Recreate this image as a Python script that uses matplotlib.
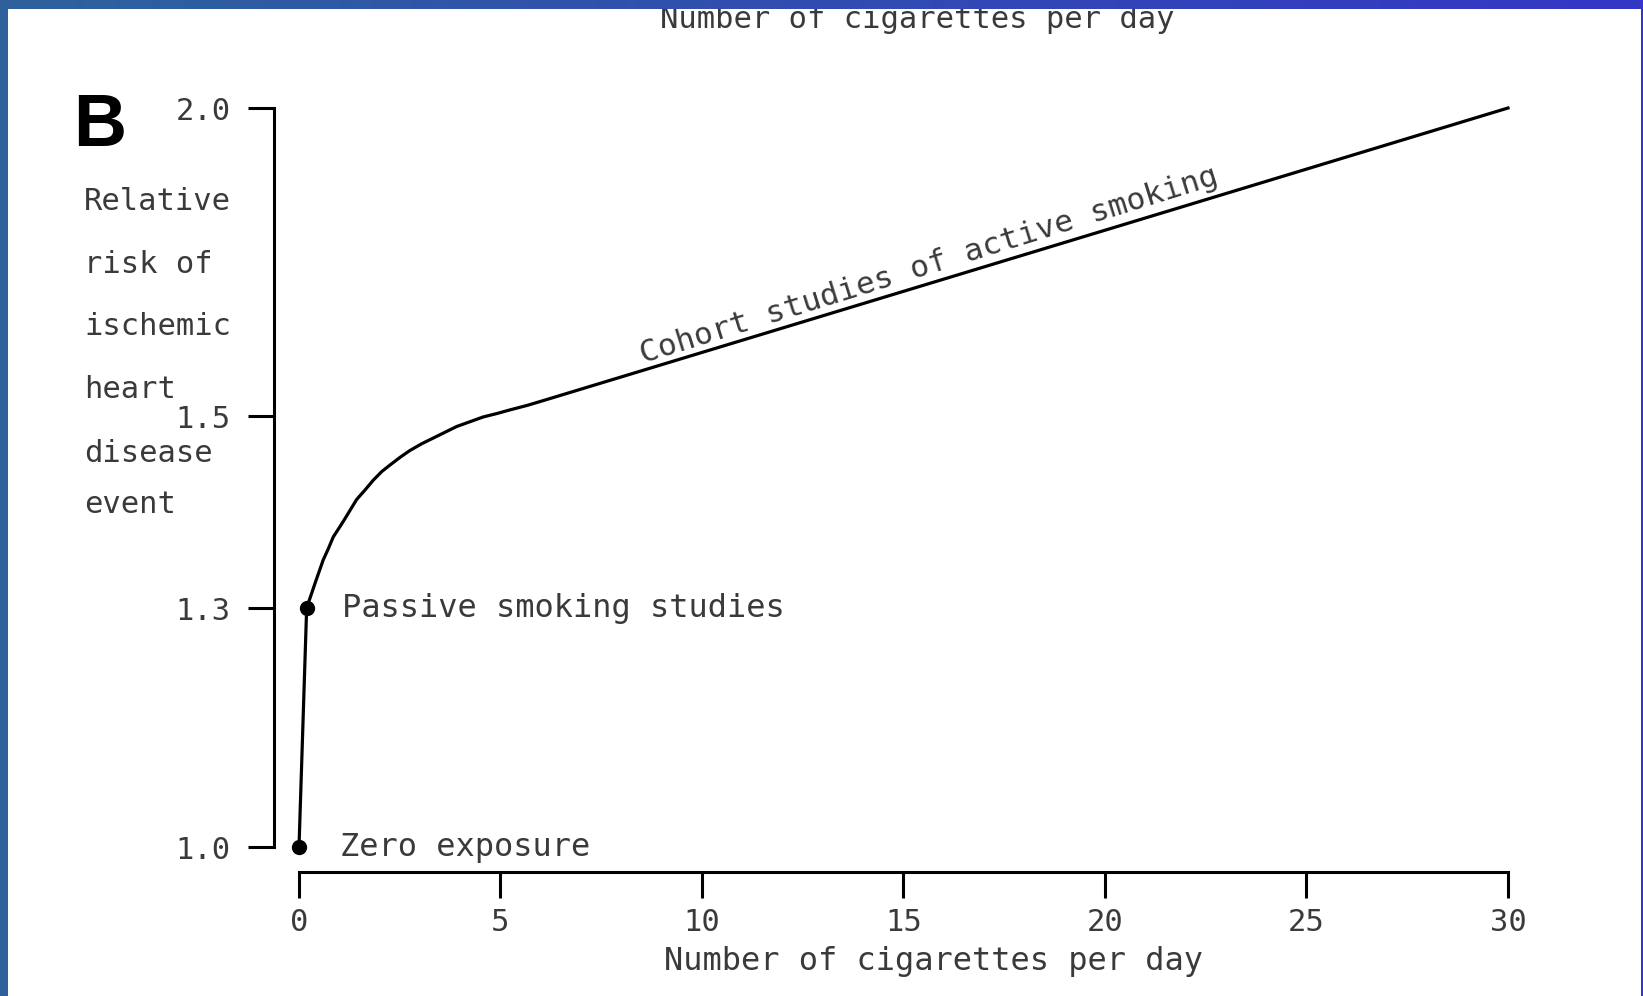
import numpy as np
import matplotlib
matplotlib.use("Agg")
import matplotlib.pyplot as plt
from matplotlib.colors import LinearSegmentedColormap

# Curve (cigarettes per day -> relative risk)
cigs = [0.0, 0.19, 0.40, 0.60, 0.73, 0.85, 1.02, 1.14, 1.27, 1.43, 1.64, 1.84, 2.05, 2.26,
        2.51, 2.75, 3.04, 3.33, 3.62, 3.91, 4.24, 4.57, 4.91, 5.24, 5.65, 6.06, 30.0]
risk = [1.0, 1.300, 1.326, 1.350, 1.362, 1.374, 1.385, 1.393, 1.402, 1.413, 1.423, 1.433, 1.442, 1.449,
        1.457, 1.464, 1.471, 1.477, 1.483, 1.489, 1.494, 1.499, 1.504, 1.510, 1.517, 1.525, 2.0]

# Labelled points
point_x = [0.0, 0.19]
point_y = [1.0, 1.3]
point_labels = ["Zero exposure", "Passive smoking studies"]

x_ticks = [0, 5, 10, 15, 20, 25, 30]
y_ticks = [1.0, 1.3, 1.5, 2.0]
y_tick_labels = ["1.0", "1.3", "1.5", "2.0"]
ylabel_lines = ["Relative", "risk of", "ischemic", "heart", "disease", "event"]

W, H = 1643, 996
fig = plt.figure(figsize=(W / 100, H / 100), dpi=100)
# the original uses a widely tracked sans; a mono sans gets the widths right
plt.rcParams["font.family"] = ["DejaVu Sans Mono"]

TXT = "#3a3a3a"
FS = 23

# y axis in the original is not linear: tick spacing in pixels
y_px = [0, 239, 431, 739]


def fwd(y):
    return np.interp(y, y_ticks, y_px)


def inv(p):
    return np.interp(p, y_px, y_ticks)


ax = fig.add_axes([299 / W, 149 / H, 1209 / W, 739 / H])
ax.set_yscale("function", functions=(fwd, inv))
ax.set_xlim(0, 30)
ax.set_ylim(1.0, 2.0)

ax.plot(cigs, risk, color="black", lw=2.3, clip_on=False, solid_joinstyle="round")
ax.plot(point_x, point_y, "o", color="black", ms=10, clip_on=False)

label_x = [1.02, 1.07]
for x, y, lab in zip(label_x, point_y, point_labels):
    ax.text(x, y, lab, fontsize=FS, color=TXT, va="center", ha="left")

ax.text(8.54, 1.586, "Cohort studies of active smoking", fontsize=FS - 0.5, color=TXT,
        rotation=17.3, rotation_mode="anchor", ha="left", va="baseline")

for s in ["top", "right"]:
    ax.spines[s].set_visible(False)
for s in ["left", "bottom"]:
    ax.spines[s].set_position(("outward", 18))
    ax.spines[s].set_linewidth(2.2)

ax.set_xticks(x_ticks)
ax.set_yticks(y_ticks)
ax.set_yticklabels(y_tick_labels)
ax.minorticks_off()
ax.tick_params(axis="both", length=19, width=2.2, direction="out", labelsize=FS - 1, labelcolor=TXT)
ax.tick_params(axis="y", pad=12)
ax.tick_params(axis="x", pad=7)

ax.set_xlabel("Number of cigarettes per day", fontsize=FS, color=TXT)
ax.xaxis.set_label_coords((934 - 299) / 1209, -0.134)

# multi-line y label, one line per row as in the original
ylab_base = [210, 273, 335, 398, 462, 513]
for line, yb in zip(ylabel_lines, ylab_base):
    fig.text(84 / W, 1 - yb / H, line, fontsize=FS - 1, color=TXT, va="baseline", ha="left")

fig.text(73 / W, 1 - 146 / H, "B", fontsize=53, fontweight="bold", color="black",
         family="Liberation Sans", va="baseline", ha="left")

# truncated label of the panel above
fig.text(917 / W, 1 - 28 / H, "Number of cigarettes per day", fontsize=FS - 1, color=TXT,
         va="baseline", ha="center")

# slide border
top = fig.add_axes([0, 1 - 9 / H, 1, 9 / H], zorder=10)
cmap = LinearSegmentedColormap.from_list("bar", ["#2e629c", "#3536c6"])
top.imshow(np.linspace(0, 1, 256)[None, :], aspect="auto", cmap=cmap)
top.axis("off")
left = fig.add_axes([0, 0, 8 / W, 1], zorder=10)
left.set_facecolor("#2f609b")
left.set_xticks([])
left.set_yticks([])
for s in left.spines.values():
    s.set_visible(False)
right = fig.add_axes([1 - 2 / W, 0, 2 / W, 1], zorder=10)
right.set_facecolor("#3434c8")
right.set_xticks([])
right.set_yticks([])
for s in right.spines.values():
    s.set_visible(False)

fig.savefig("out.png", dpi=100)
